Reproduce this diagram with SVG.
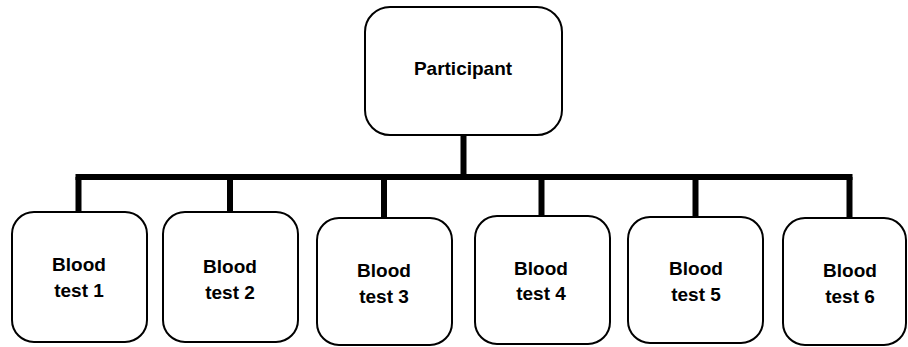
<svg xmlns="http://www.w3.org/2000/svg" width="908" height="347" viewBox="0 0 908 347">
<style>
.box{fill:#fff;stroke:#000;stroke-width:2}
.lbl{font-family:"Liberation Sans",Arial,sans-serif;font-weight:bold;font-size:19px;fill:#000;text-anchor:middle}
.con{stroke:#000;stroke-width:6;fill:none}
</style>
<rect width="908" height="347" fill="#fff"/>
<g id="connectors">
<line class="con" x1="463.5" y1="135" x2="463.5" y2="177"/>
<line class="con" x1="75.5" y1="177" x2="852.5" y2="177"/>
<line class="con" x1="78.5" y1="177" x2="78.5" y2="212"/>
<line class="con" x1="230" y1="177" x2="230" y2="212"/>
<line class="con" x1="384" y1="177" x2="384" y2="218"/>
<line class="con" x1="541.5" y1="177" x2="541.5" y2="216"/>
<line class="con" x1="695.5" y1="177" x2="695.5" y2="217"/>
<line class="con" x1="849.5" y1="177" x2="849.5" y2="218"/>
</g>
<g id="participant">
<rect class="box" x="365" y="7" width="197" height="128" rx="25"/>
<text class="lbl" x="463" y="75">Participant</text>
</g>
<g id="test1">
<rect class="box" x="12" y="212" width="135" height="130" rx="22"/>
<text class="lbl" x="79" y="271">Blood</text>
<text class="lbl" x="79" y="297">test 1</text>
</g>
<g id="test2">
<rect class="box" x="163" y="212" width="135" height="130" rx="22"/>
<text class="lbl" x="230" y="273">Blood</text>
<text class="lbl" x="230" y="299">test 2</text>
</g>
<g id="test3">
<rect class="box" x="317" y="218" width="135" height="127" rx="22"/>
<text class="lbl" x="384" y="277">Blood</text>
<text class="lbl" x="384" y="303">test 3</text>
</g>
<g id="test4">
<rect class="box" x="475" y="216" width="135" height="128" rx="22"/>
<text class="lbl" x="541" y="275">Blood</text>
<text class="lbl" x="541" y="300">test 4</text>
</g>
<g id="test5">
<rect class="box" x="628" y="217" width="135" height="126" rx="22"/>
<text class="lbl" x="696" y="275">Blood</text>
<text class="lbl" x="696" y="301">test 5</text>
</g>
<g id="test6">
<rect class="box" x="783" y="218" width="123" height="127" rx="22"/>
<text class="lbl" x="850" y="277">Blood</text>
<text class="lbl" x="850" y="303">test 6</text>
</g>
</svg>
